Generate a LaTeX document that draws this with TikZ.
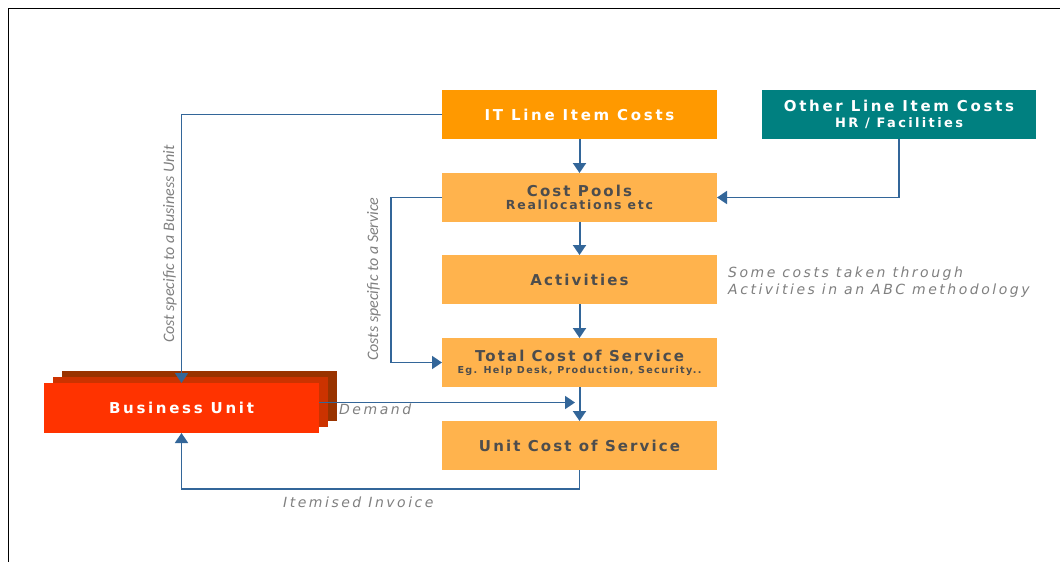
\documentclass[tikz,border=0pt]{standalone}
\usepackage{fontspec}
\setmainfont{DejaVu Sans}
\newfontfamily\boxfont[LetterSpace=14]{DejaVu Sans}
\newfontfamily\wideboxfont[LetterSpace=18]{DejaVu Sans}
\newfontfamily\notefont[LetterSpace=18]{DejaVu Sans}
\newfontfamily\sidefont{Carlito}
\usetikzlibrary{arrows.meta}

\definecolor{itorange}{HTML}{FF9900}
\definecolor{poolorange}{HTML}{FFB34D}
\definecolor{otherteal}{HTML}{008080}
\definecolor{buback}{HTML}{993300}
\definecolor{bumid}{HTML}{CC3300}
\definecolor{bufront}{HTML}{FF3300}
\definecolor{flowblue}{HTML}{336699}
\definecolor{darktext}{HTML}{4D4D4D}
\definecolor{notegrey}{HTML}{808080}

\tikzset{
  box/.style={anchor=north west, minimum width=275pt, minimum height=49pt,
    inner sep=0pt, outer sep=0pt, align=center},
  headbox/.style={box, text=white, font=\wideboxfont\bfseries\fontsize{15}{17}\selectfont},
  costbox/.style={box, fill=poolorange, text=darktext,
    font=\boxfont\bfseries\fontsize{15}{17}\selectfont},
  bubox/.style={anchor=north west, minimum width=275pt, minimum height=50pt,
    inner sep=0pt, outer sep=0pt},
  note/.style={text=notegrey, font=\notefont\itshape\fontsize{14}{17}\selectfont,
    inner sep=0pt, align=left},
  side/.style={text=notegrey, font=\sidefont\itshape\fontsize{16}{19}\selectfont,
    inner sep=0pt},
  flow/.style={draw=flowblue, line width=2pt, -{Triangle[width=13pt,length=10pt]}},
  flowthin/.style={flow, line width=1.6pt},
}

\begin{document}
\begin{tikzpicture}[x=1pt,y=-1pt]
  \useasboundingbox (0,0) rectangle (1060,562);
  \fill[white] (0,0) rectangle (1060,562);
  % frame (top and left edges)
  \draw[line width=1pt] (1060,8.5) -- (8.5,8.5) -- (8.5,562);

  % cost chain
  \node[headbox, fill=itorange] (it) at (442,90) {IT Line Item Costs};
  \node[headbox, fill=otherteal, minimum width=274pt] (other) at (762,90)
    {Other Line Item Costs\\[-1pt]{\fontsize{13}{15}\selectfont HR / Facilities}};
  \node[costbox] (pools) at (442,173)
    {Cost Pools\\[-4pt]{\fontsize{12.5}{14}\selectfont Reallocations etc}};
  \node[costbox] (act) at (442,255) {Activities};
  \node[costbox] (total) at (442,338)
    {Total Cost of Service\\[-5pt]{\fontsize{9.6}{11}\selectfont Eg. Help Desk, Production, Security..}};
  \node[costbox] (unitcost) at (442,421) {Unit Cost of Service};

  % business unit stack
  \node[bubox, fill=buback] (bu3) at (62,371) {};
  \node[bubox, fill=bumid] (bu2) at (53,377) {};
  \node[bubox, fill=bufront, text=white,
    font=\wideboxfont\bfseries\fontsize{15}{17}\selectfont] (bu) at (44,383) {Business Unit};

  % helper points for routed connectors
  \coordinate (svcbend) at (391,0);
  \coordinate (invoicey) at (0,489);
  \coordinate (demandtip) at (575,402.5);

  % connectors
  \draw[flowthin] (it.west) -| (bu.north);
  \draw[flow] (it) -- (pools);
  \draw[flowthin] (other.south) |- (pools.east);
  \draw[flowthin] (pools.west) -- (pools.west -| svcbend) |- (total.west);
  \draw[flow] (pools) -- (act);
  \draw[flow] (act) -- (total);
  \draw[flow] (total) -- (unitcost);
  \draw[flowthin] (bu.east |- demandtip) -- (demandtip);
  \draw[flowthin] (unitcost.south) -- (unitcost.south |- invoicey) -| (bu.south);

  % labels
  \node[side, rotate=90] (bulabel) at (170,244) {Cost specific to a Business Unit};
  \node[side, rotate=90] (svclabel) at (374,279) {Costs specific to a Service};
  \node[note, anchor=west] (abc) at (728,282)
    {Some costs taken through\\Activities in an ABC methodology};
  \node[note, anchor=base west] (demand) at (339,414) {Demand};
  \node[note, anchor=base west] (invoice) at (283,507) {Itemised Invoice};
\end{tikzpicture}
\end{document}
